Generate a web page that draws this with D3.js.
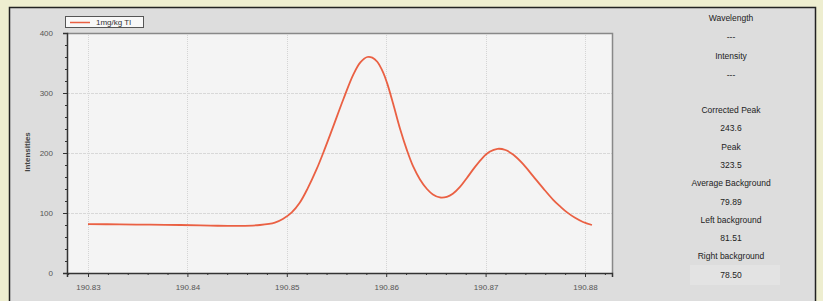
<!DOCTYPE html>
<html>
<head>
<meta charset="utf-8">
<script src="https://cdnjs.cloudflare.com/ajax/libs/d3/7.8.5/d3.min.js"></script>
<style>
  body { margin: 0; background: #eeeed0; }
  svg { display: block; font-family: "Liberation Sans", Arial, sans-serif; }
</style>
</head>
<body>
<div class="svg"></div>
<script>
//Data
var wavelengths = [190.8300, 190.8332, 190.8362, 190.8393, 190.8423, 190.8453, 190.8473, 190.8488,
  190.8496, 190.8505, 190.8513, 190.8521, 190.8530, 190.8538, 190.8546, 190.8557, 190.8567,
  190.8574, 190.8581, 190.8586, 190.8591, 190.8597, 190.8601, 190.8607, 190.8614, 190.8621,
  190.8627, 190.8634, 190.8641, 190.8647, 190.8654, 190.8661, 190.8667, 190.8674, 190.8681,
  190.8689, 190.8697, 190.8704, 190.8712, 190.8720, 190.8728, 190.8738, 190.8748, 190.8758,
  190.8768, 190.8775, 190.8782, 190.8790, 190.8798, 190.8807];
var intensities = [81.5, 81, 80.5, 80, 79, 78.5, 80, 84,
  90, 101, 117, 141, 173, 206, 241, 290, 331,
  351, 360, 359, 352, 334, 316, 282, 240, 204,
  178, 156, 140, 131, 126, 127, 132, 143, 158,
  176, 192, 202, 207, 205, 197, 181, 161, 141,
  122, 111, 101, 92, 85, 80];
var xTicks = [190.83, 190.84, 190.85, 190.86, 190.87, 190.88];
var yTicks = [0, 100, 200, 300, 400];
var seriesName = "1mg/kg Tl";
var infoLabels = ["Wavelength", "---", "Intensity", "---", "", "Corrected Peak", "243.6", "Peak", "323.5",
  "Average Background", "79.89", "Left background", "81.51", "Right background", "78.50"];

//Config
var width = 823,
    height = 301,
    plot = { left : 67, right : 612, top : 33, bottom : 273 };

var svg = d3.select(".svg")
    .append("svg")
    .attr("width", width)
    .attr("height", height);

//Panel
svg.append("rect")
  .attr("x", 9.5).attr("y", 7.5)
  .attr("width", 806).attr("height", 300)
  .style("fill", "#dddddd")
  .style("stroke", "#222")
  .style("stroke-width", "1.5px");

//Scales
var pxPerStep = (585 - 88) / 5;
var x = d3.scaleLinear()
  .domain([190.83 - (88 - plot.left) / pxPerStep * 0.01, 190.88 + (plot.right - 585) / pxPerStep * 0.01])
  .range([plot.left, plot.right]);

var y = d3.scaleLinear()
  .domain([0, 400])
  .range([plot.bottom, plot.top]);

//Plot background
svg.append("rect")
  .attr("x", plot.left).attr("y", plot.top)
  .attr("width", plot.right - plot.left).attr("height", plot.bottom - plot.top)
  .style("fill", "#f4f4f4");

//Grid
var grid = svg.append("g");
grid.selectAll(".vgrid")
  .data(xTicks)
  .enter()
  .append("line")
  .attr("x1", function (d) { return Math.round(x(d)) + 0.5; })
  .attr("x2", function (d) { return Math.round(x(d)) + 0.5; })
  .attr("y1", plot.top).attr("y2", plot.bottom)
  .style("stroke", "#d4d4d4")
  .style("stroke-dasharray", "1,1");

grid.selectAll(".hgrid")
  .data(yTicks.filter(function (d) { return d > 0 && d < 400; }))
  .enter()
  .append("line")
  .attr("y1", function (d) { return Math.round(y(d)) + 0.5; })
  .attr("y2", function (d) { return Math.round(y(d)) + 0.5; })
  .attr("x1", plot.left).attr("x2", plot.right)
  .style("stroke", "#d8d8d8")
  .style("stroke-dasharray", "3,1");

//Top and right frame
svg.append("path")
  .attr("d", "M" + plot.left + "," + (plot.top + 0.5) + "H" + (plot.right + 0.5) + "V" + plot.bottom)
  .style("fill", "none")
  .style("stroke", "#888")
  .style("stroke-width", "1.5px");

//Axes
var xAxis = svg.append("g")
  .attr("transform", "translate(0," + plot.bottom + ")")
  .call(d3.axisBottom(x).tickValues(xTicks).tickSize(4).tickFormat(d3.format(".2f")));

var xMinor = [];
xTicks.forEach(function (t) {
  for (var i = -4; i <= 4; i++) {
    var v = t + i * 0.002;
    if (i !== 0 && v > x.domain()[0] && v < x.domain()[1] && xMinor.indexOf(v.toFixed(4)) < 0) xMinor.push(v.toFixed(4));
  }
});
svg.append("g")
  .attr("transform", "translate(0," + plot.bottom + ")")
  .call(d3.axisBottom(x).tickValues(xMinor.map(Number)).tickSize(2).tickFormat(""))
  .call(function (g) { g.select(".domain").remove(); });

var yAxis = svg.append("g")
  .attr("transform", "translate(" + plot.left + ",0)")
  .call(d3.axisLeft(y).tickValues(yTicks).tickSize(4));

svg.append("g")
  .attr("transform", "translate(" + plot.left + ",0)")
  .call(d3.axisLeft(y).tickValues(d3.range(20, 400, 20).filter(function (d) { return d % 100; })).tickSize(2).tickFormat(""))
  .call(function (g) { g.select(".domain").remove(); });

svg.selectAll(".domain").style("stroke", "#333").style("stroke-width", "1.5px");
svg.selectAll(".tick line").style("stroke", "#333");
xAxis.selectAll("text").attr("dy", "1.3em");
svg.selectAll(".tick text")
  .style("font-size", "8px")
  .style("fill", "#555");
yAxis.selectAll("text").attr("x", -14);

//Axis title
svg.append("text")
  .attr("transform", "translate(30,152) rotate(-90)")
  .style("text-anchor", "middle")
  .style("font-size", "8px")
  .style("font-weight", "bold")
  .style("fill", "#444")
  .text("Intensities");

//Line
var points = wavelengths.map(function (w, i) { return [w, intensities[i]]; });
svg.append("path")
  .datum(points)
  .attr("d", d3.line()
    .x(function (d) { return x(d[0]); })
    .y(function (d) { return y(d[1]); })
    .curve(d3.curveCatmullRom.alpha(0.5)))
  .style("fill", "none")
  .style("stroke", "#ea6043")
  .style("stroke-width", "1.8px");

//Legend
var legend = svg.append("g").attr("transform", "translate(65,16)");
legend.append("rect")
  .attr("x", 0.5).attr("y", 0.5)
  .attr("width", 78).attr("height", 11)
  .style("fill", "#f8f8f8")
  .style("stroke", "#555");
legend.append("line")
  .attr("x1", 5).attr("x2", 25)
  .attr("y1", 6.5).attr("y2", 6.5)
  .style("stroke", "#ea6043")
  .style("stroke-width", "1.5px");
legend.append("text")
  .attr("x", 31).attr("y", 9)
  .style("font-size", "8px")
  .style("fill", "#333")
  .text(seriesName);

//Info panel
svg.append("rect")
  .attr("x", 690).attr("y", 265)
  .attr("width", 90).attr("height", 20)
  .style("fill", "#e3e3e3");

svg.append("g")
  .selectAll("text")
  .data(infoLabels)
  .enter()
  .append("text")
  .attr("x", 731)
  .attr("y", function (d, i) { return i < 4 ? 21 + i * 19 : 113 + (i - 5) * 18.3; })
  .style("text-anchor", "middle")
  .style("font-size", "8.5px")
  .style("fill", "#222")
  .text(function (d) { return d; });
</script>
</body>
</html>
